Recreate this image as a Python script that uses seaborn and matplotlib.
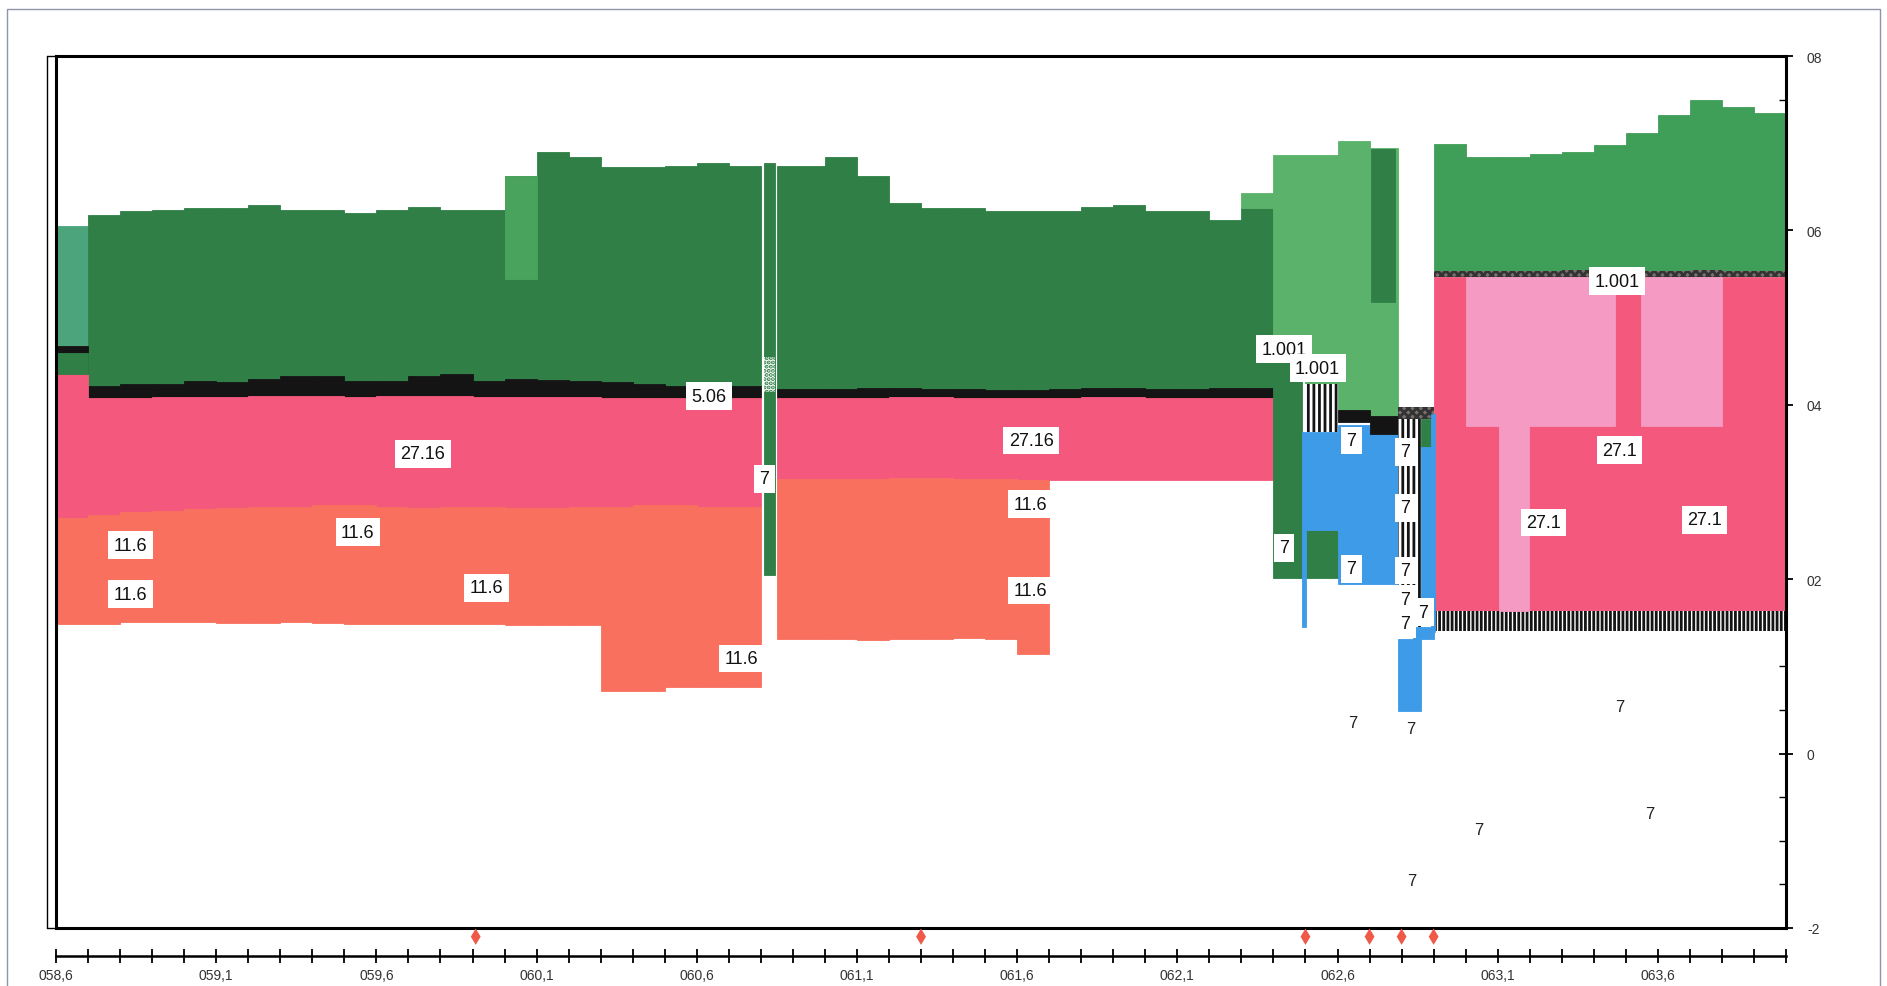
import matplotlib
matplotlib.use("Agg")
import matplotlib.pyplot as plt
from matplotlib.lines import Line2D
from matplotlib.patches import Rectangle
from matplotlib.ticker import MultipleLocator
import seaborn as sns

sns.set_theme(style="white")
plt.rcParams["font.family"] = ["Liberation Sans", "DejaVu Sans"]
plt.rcParams["hatch.linewidth"] = 2.0

DARK = "#2f7f46"
LIGHT = "#5bb36b"
MID = "#3f9e57"
TEAL = "#4ba47c"
PINK = "#f4587c"
LPINK = "#f59ac2"
SALMON = "#f9705f"
BLUE = "#3d9be8"
BLACK = "#141414"

# ---- western stretch: 100 m cells starting at km 58.6 ----
km_a = [58.6, 58.7, 58.8, 58.9, 59.0, 59.1, 59.2, 59.3, 59.4, 59.5, 59.6,
        59.7, 59.8, 59.9, 60.0, 60.1, 60.2, 60.3, 60.4, 60.5, 60.6, 60.7]
green_top_a = [6.05, 6.18, 6.22, 6.24, 6.26, 6.26, 6.29, 6.24, 6.23, 6.20, 6.23,
               6.27, 6.23, 6.23, 6.63, 6.90, 6.84, 6.73, 6.73, 6.74, 6.77, 6.74]
black_top_a = [4.67, 4.22, 4.24, 4.24, 4.27, 4.26, 4.30, 4.33, 4.33, 4.27, 4.27,
               4.33, 4.35, 4.27, 4.30, 4.28, 4.27, 4.26, 4.24, 4.22, 4.22, 4.22]
pink_top_a = [4.35, 4.08, 4.08, 4.09, 4.09, 4.09, 4.10, 4.10, 4.10, 4.09, 4.10,
              4.10, 4.10, 4.09, 4.09, 4.09, 4.09, 4.08, 4.08, 4.08, 4.08, 4.08]
salmon_top_a = [2.70, 2.74, 2.77, 2.78, 2.81, 2.82, 2.83, 2.83, 2.85, 2.85, 2.83,
                2.82, 2.83, 2.83, 2.82, 2.82, 2.83, 2.83, 2.85, 2.85, 2.83, 2.83]
salmon_bot_a = [1.49, 1.49, 1.51, 1.51, 1.51, 1.50, 1.50, 1.51, 1.50, 1.49, 1.49,
                1.49, 1.49, 1.49, 1.48, 1.48, 1.48, 0.72, 0.72, 0.76, 0.76, 0.76]

# ---- middle stretch ----
km_b = [60.85, 61.0, 61.1, 61.2, 61.3, 61.4, 61.5, 61.6, 61.7, 61.8, 61.9,
        62.0, 62.1, 62.2, 62.3]
width_b = [0.15, 0.1, 0.1, 0.1, 0.1, 0.1, 0.1, 0.1, 0.1, 0.1, 0.1, 0.1, 0.1, 0.1, 0.1]
green_top_b = [6.74, 6.84, 6.63, 6.31, 6.26, 6.26, 6.22, 6.22, 6.22, 6.27, 6.29,
               6.22, 6.22, 6.12, 6.26]
black_top_b = [4.18, 4.18, 4.19, 4.19, 4.18, 4.18, 4.17, 4.17, 4.18, 4.19, 4.19,
               4.18, 4.18, 4.19, 4.19]
pink_top_b = [4.08, 4.08, 4.08, 4.09, 4.09, 4.08, 4.08, 4.08, 4.08, 4.09, 4.09,
              4.08, 4.08, 4.08, 4.08]
pink_bot_b = [3.15, 3.15, 3.15, 3.16, 3.16, 3.15, 3.15, 3.14, 3.14, 3.14, 3.14,
              3.14, 3.14, 3.14, 3.14]
salmon_bot_b = [1.31, 1.31, 1.30, 1.31, 1.31, 1.32, 1.31, 1.14]

# ---- eastern stretch ----
km_d = [62.9, 63.0, 63.1, 63.2, 63.3, 63.4, 63.5, 63.6, 63.7, 63.8, 63.9]
green_top_d = [6.99, 6.84, 6.84, 6.88, 6.90, 6.98, 7.12, 7.32, 7.50, 7.42, 7.35]
green_bot_d = [5.54, 5.54, 5.54, 5.54, 5.55, 5.54, 5.54, 5.54, 5.55, 5.54, 5.54]
pink_top_d = [5.47, 5.47, 5.47, 5.47, 5.47, 5.47, 5.47, 5.47, 5.47, 5.47, 5.47]
pink_bot_d = [1.63, 1.63, 1.63, 1.63, 1.63, 1.63, 1.63, 1.63, 1.63, 1.63, 1.63]
code_bot_d = [1.41, 1.41, 1.41, 1.41, 1.41, 1.41, 1.41, 1.41, 1.41, 1.41, 1.41]

# ---- individual blocks (junction zone and inserts) ----
blk_left = [62.40, 62.50, 62.60, 62.70, 62.705, 62.40, 62.50, 62.49, 62.49, 62.60,
            62.70, 62.50, 62.60, 62.70, 62.79, 62.79, 62.86, 62.86, 62.79, 62.835,
            62.893, 58.60, 60.00, 60.81, 60.81, 62.30, 63.00, 63.547, 63.105]
blk_right = [62.50, 62.60, 62.70, 62.79, 62.78, 62.49, 62.60, 62.60, 62.502, 62.70,
             62.79, 62.60, 62.70, 62.79, 62.90, 62.86, 62.895, 62.895, 62.86, 62.90,
             62.905, 58.70, 60.10, 60.845, 60.845, 62.40, 63.465, 63.80, 63.198]
blk_low = [4.70, 4.24, 3.94, 3.87, 5.18, 2.01, 2.01, 2.56, 1.45, 1.94,
           1.94, 3.69, 3.80, 3.66, 3.84, 1.45, 3.52, 1.73, 0.49, 1.31,
           1.40, 4.35, 5.44, 2.05, 4.15, 6.26, 3.76, 3.76, 1.63]
blk_high = [6.87, 6.87, 7.02, 6.95, 6.93, 4.70, 2.56, 3.69, 2.56, 3.77,
            3.66, 4.24, 3.94, 3.87, 3.98, 3.84, 3.84, 3.52, 1.31, 1.45,
            3.90, 4.59, 6.63, 6.77, 4.55, 6.43, 5.47, 5.47, 3.76]
blk_fill = [LIGHT, LIGHT, LIGHT, LIGHT, DARK, DARK, DARK, BLUE, BLUE, BLUE,
            BLUE, "white", BLACK, BLACK, "#7a6f6f", "white", DARK, BLUE, BLUE, BLUE,
            BLUE, DARK, "#4aa35d", DARK, "white", LIGHT, LPINK, LPINK, LPINK]
blk_hatch = [None, None, None, None, None, None, None, None, None, None,
             None, "|||", None, None, "xxxx", "|||", None, None, None, None,
             None, None, None, None, "....", None, None, None, None]
blk_hatch_col = [None, None, None, None, None, None, None, None, None, None,
                 None, BLACK, None, None, "#333333", BLACK, None, None, None, None,
                 None, None, None, None, DARK, None, None, None, None]

# ---- boxed annotations ----
tag_text = ["5.06", "27.16", "11.6", "11.6", "11.6", "11.6", "11.6", "7",
            "27.16", "11.6", "11.6", "1.001", "1.001", "7", "7", "7",
            "7", "7", "7", "7", "7", "7", "1.001", "27.1", "27.1", "27.1"]
tag_km = [60.638, 59.745, 58.833, 59.542, 58.833, 59.944, 60.740, 60.811,
          61.644, 61.640, 61.640, 62.433, 62.538, 62.433, 62.643, 62.643,
          62.812, 62.812, 62.812, 62.812, 62.812, 62.868, 63.473, 63.480, 63.243, 63.746]
tag_level = [4.10, 3.44, 2.39, 2.54, 1.83, 1.90, 1.09, 3.15,
             3.59, 2.86, 1.87, 4.64, 4.42, 2.36, 3.59, 2.12,
             3.46, 2.82, 2.10, 1.77, 1.49, 1.62, 5.42, 3.48, 2.65, 2.68]

# ---- plain annotations below the bands ----
note_text = ["7", "7", "7", "7", "7", "7"]
note_km = [62.647, 62.827, 63.041, 62.831, 63.480, 63.574]
note_level = [0.36, 0.29, -0.87, -1.46, 0.54, -0.69]

# ---- event markers on the base line ----
event_km = [59.91, 61.30, 62.50, 62.70, 62.80, 62.90]
event_level = [-2.1, -2.1, -2.1, -2.1, -2.1, -2.1]

km_ticks = [58.6, 59.1, 59.6, 60.1, 60.6, 61.1, 61.6, 62.1, 62.6, 63.1, 63.6]
km_tick_labels = ["058,6", "059,1", "059,6", "060,1", "060,6", "061,1",
                  "061,6", "062,1", "062,6", "063,1", "063,6"]
level_ticks = [-2, 0, 2, 4, 6, 8]
level_tick_labels = ["-2", "0", "02", "04", "06", "08"]


def band(ax, lefts, widths, lows, highs, color, hatch=None, hcol=None):
    heights = [h - l for l, h in zip(lows, highs)]
    if hatch:
        ax.bar(lefts, heights, width=widths, bottom=lows, align="edge",
               color=color, edgecolor=hcol, linewidth=0, hatch=hatch)
    else:
        ax.bar(lefts, heights, width=widths, bottom=lows, align="edge",
               color=color, edgecolor=color, linewidth=0.6)


fig = plt.figure(figsize=(18.87, 9.87), dpi=100)
fig.patch.set_facecolor("white")
ax = fig.add_axes([0.0297, 0.0588, 0.9168, 0.8834])
ax.set_facecolor("white")

# western stretch
green_cols = [TEAL] + [DARK] * (len(km_a) - 1)
band(ax, km_a, 0.1, black_top_a, green_top_a, green_cols)
band(ax, km_a, 0.1, pink_top_a, black_top_a, BLACK)
band(ax, km_a, 0.1, salmon_top_a, pink_top_a, PINK)
band(ax, km_a, 0.1, salmon_bot_a, salmon_top_a, SALMON)

# middle stretch
band(ax, km_b, width_b, black_top_b, green_top_b, DARK)
band(ax, km_b, width_b, pink_top_b, black_top_b, BLACK)
band(ax, km_b, width_b, pink_bot_b, pink_top_b, PINK)
band(ax, km_b[:8], width_b[:8], salmon_bot_b, pink_bot_b[:8], SALMON)

# eastern stretch
band(ax, km_d, 0.1, green_bot_d, green_top_d, MID)
band(ax, km_d, 0.1, pink_top_d, green_bot_d, "#7a6f6f", hatch="xxxx", hcol="#333333")
band(ax, km_d, 0.1, pink_bot_d, pink_top_d, PINK)
band(ax, km_d, 0.1, code_bot_d, pink_bot_d, "white", hatch="||||", hcol=BLACK)

# individual blocks
for l, r, lo, hi, fc, ht, hc in zip(blk_left, blk_right, blk_low, blk_high,
                                     blk_fill, blk_hatch, blk_hatch_col):
    band(ax, [l], [r - l], [lo], [hi], fc, hatch=ht, hcol=hc)

for s, x, y in zip(tag_text, tag_km, tag_level):
    ax.text(x, y, s, ha="center", va="center", fontsize=13, color="#111111",
            bbox=dict(boxstyle="square,pad=0.3", fc="white", ec="none"), zorder=5)
for s, x, y in zip(note_text, note_km, note_level):
    ax.text(x, y, s, ha="center", va="center", fontsize=12, color="#222222", zorder=5)

sns.scatterplot(x=event_km, y=event_level, marker="d", color="#ef5a48", s=70,
                edgecolor="none", clip_on=False, ax=ax, zorder=6, legend=False)

ax.set_xlim(58.6, 64.0)
ax.set_ylim(-2, 8)
for sp in ax.spines.values():
    sp.set_visible(True)
    sp.set_color("black")
    sp.set_linewidth(2.2)

ax.tick_params(axis="x", which="both", bottom=False, top=False, labelbottom=False)
ax.yaxis.tick_right()
ax.set_yticks(level_ticks)
ax.set_yticklabels(level_tick_labels)
ax.yaxis.set_minor_locator(MultipleLocator(0.5))
ax.tick_params(axis="y", which="major", right=True, left=False, direction="inout",
               length=10, width=1.3, labelsize=10, pad=10, colors="black",
               labelcolor="#333333")
ax.tick_params(axis="y", which="minor", right=True, left=False, direction="in",
               length=5, width=1.0, colors="black")

sec = ax.secondary_xaxis(-0.032)
sec.set_xticks(km_ticks)
sec.set_xticklabels(km_tick_labels)
sec.xaxis.set_minor_locator(MultipleLocator(0.1))
sec.spines["bottom"].set_linewidth(1.8)
sec.spines["bottom"].set_color("black")
sec.tick_params(axis="x", which="both", direction="inout", length=10, width=1.3,
                labelsize=10, pad=4, colors="black", labelcolor="#333333")

# thin companion line left of the frame
fig.add_artist(Line2D([47 / 1887, 47 / 1887], [0.0588, 0.9422], color="black", lw=1.0))
fig.add_artist(Line2D([47 / 1887, 56 / 1887], [0.9422, 0.9422], color="black", lw=1.0))
fig.add_artist(Line2D([47 / 1887, 56 / 1887], [0.0588, 0.0588], color="black", lw=1.0))
# outer border
fig.add_artist(Rectangle((7 / 1887, -0.01), 1873 / 1887, 0.9999 - 10 / 987 + 0.01,
                         transform=fig.transFigure, fill=False,
                         edgecolor="#8e94ac", lw=1.0))

fig.savefig("out.png", dpi=100, facecolor="white")
